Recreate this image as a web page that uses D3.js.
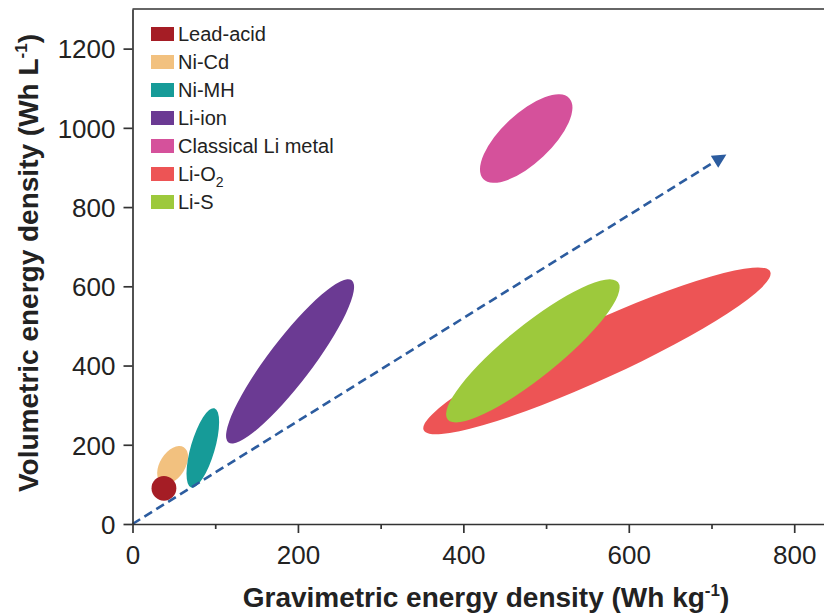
<!DOCTYPE html>
<html>
<head>
<meta charset="utf-8">
<script src="https://cdn.jsdelivr.net/npm/d3@7"></script>
<style>
  html, body { margin: 0; padding: 0; background: #fff; }
  svg { display: block; font-family: "Liberation Sans", Arial, Helvetica, sans-serif; }
</style>
</head>
<body>
<svg id="chart" width="824" height="614"></svg>
<script>
// ---- data (Wh/kg, Wh/L) ----
// each chemistry is an ellipse: long axis from (gravLow, volLow) to (gravHigh, volHigh),
// plus how thick it is relative to its length
const chemistries = ["Lead-acid", "Ni-Cd", "Ni-MH", "Li-ion", "Classical Li metal", "Li-O2", "Li-S"];
const gravLow  = [23, 35, 71, 116, 424, 352, 381];
const gravHigh = [53, 62, 99, 265, 528, 771, 587];
const volLow   = [90, 104, 92, 206, 871, 237, 264];
const volHigh  = [90, 194, 292, 615, 1075, 637, 610];
const thickness = [1, 0.6, 0.29, 0.214, 0.42, 0.15, 0.24];
const colors = ["#a51d25", "#f2c17f", "#169b98", "#6b3a93", "#d5519b", "#ed5455", "#9dc93c"];
const drawOrder = [1, 0, 2, 3, 4, 5, 6]; // Ni-Cd sits under the lead-acid dot, Li-S over Li-O2

const xTicks = [0, 200, 400, 600, 800];
const xMinorTicks = [100, 300, 500, 700];
const yTicks = [0, 200, 400, 600, 800, 1000, 1200];
const trendEnd = { grav: 718, vol: 933 }; // dashed arrow from the origin

// ---- layout ----
const svg = d3.select("#chart");
const W = 824, H = 614;
const m = { top: 9, right: 0, bottom: 90, left: 132.5 };
const x = d3.scaleLinear().domain([0, 836]).range([m.left, W - m.right]);
const y = d3.scaleLinear().domain([0, 1300]).range([H - m.bottom, m.top]);
const axisColor = "#333";

// ---- ellipses ----
const g = svg.append("g");
drawOrder.forEach(i => {
  const x1 = x(gravLow[i]), y1 = y(volLow[i]);
  const x2 = x(gravHigh[i]), y2 = y(volHigh[i]);
  const rx = Math.hypot(x2 - x1, y2 - y1) / 2;
  const ang = Math.atan2(y2 - y1, x2 - x1) * 180 / Math.PI;
  const cx = (x1 + x2) / 2, cy = (y1 + y2) / 2;
  g.append("ellipse")
    .attr("cx", cx).attr("cy", cy)
    .attr("rx", rx).attr("ry", rx * thickness[i])
    .attr("transform", `rotate(${ang},${cx},${cy})`)
    .attr("fill", colors[i]);
});

// ---- trend arrow ----
svg.append("defs").append("marker")
  .attr("id", "head").attr("viewBox", "0 0 10 10")
  .attr("refX", 10).attr("refY", 5)
  .attr("markerUnits", "userSpaceOnUse")
  .attr("markerWidth", 18).attr("markerHeight", 14)
  .attr("orient", "auto")
  .append("path").attr("d", "M0,0 L10,5 L0,10 Z").attr("fill", "#2c5c9f");

svg.append("line")
  .attr("x1", x(0)).attr("y1", y(0))
  .attr("x2", x(trendEnd.grav)).attr("y2", y(trendEnd.vol))
  .attr("stroke", "#2c5c9f").attr("stroke-width", 2.6)
  .attr("stroke-dasharray", "9,5")
  .attr("marker-end", "url(#head)");

// ---- axes ----
svg.append("g").attr("transform", `translate(0,${y(0)})`)
  .call(d3.axisBottom(x).tickValues(xTicks).tickFormat(d3.format("d"))
    .tickSize(9).tickSizeOuter(0).tickPadding(13));
svg.append("g").attr("transform", `translate(0,${y(0)})`)
  .call(d3.axisBottom(x).tickValues(xMinorTicks).tickSize(5).tickSizeOuter(0).tickFormat(""))
  .call(a => a.select(".domain").remove());
const yAxis = svg.append("g").attr("transform", `translate(${x(0)},0)`)
  .call(d3.axisLeft(y).tickValues(yTicks).tickFormat(d3.format("d"))
    .tickSize(9).tickSizeOuter(0).tickPadding(8));

svg.selectAll(".domain, .tick line").attr("stroke", axisColor).attr("stroke-width", 1.7);
svg.selectAll(".tick text").attr("fill", "#222").style("font-size", "26px");
yAxis.selectAll(".tick text").attr("dy", "0.36em");

// top frame line
svg.append("line")
  .attr("x1", x(0)).attr("x2", W).attr("y1", y(1300)).attr("y2", y(1300))
  .attr("stroke", axisColor).attr("stroke-width", 1.7);

// ---- axis titles ----
const xt = svg.append("text")
  .attr("x", 486).attr("y", 607)
  .attr("text-anchor", "middle").attr("fill", "#222")
  .style("font-size", "28px").style("font-weight", "bold");
xt.append("tspan").text("Gravimetric energy density (Wh kg");
xt.append("tspan").attr("dy", -11).style("font-size", "17px").text("-1");
xt.append("tspan").attr("dy", 11).text(")");

const yt = svg.append("text")
  .attr("transform", "translate(38,263) rotate(-90)")
  .attr("text-anchor", "middle").attr("fill", "#222")
  .style("font-size", "28px").style("font-weight", "bold");
yt.append("tspan").text("Volumetric energy density (Wh L");
yt.append("tspan").attr("dy", -11).style("font-size", "17px").text("-1");
yt.append("tspan").attr("dy", 11).text(")");

// ---- legend ----
const legend = svg.append("g").attr("transform", "translate(151,34)");
chemistries.forEach((name, i) => {
  const row = legend.append("g").attr("transform", `translate(0,${i * 28})`);
  row.append("rect").attr("x", 0).attr("y", -7).attr("width", 23).attr("height", 14)
    .attr("fill", colors[i]);
  const t = row.append("text").attr("x", 27).attr("y", 7)
    .attr("fill", "#222").style("font-size", "20px");
  if (name === "Li-O2") {
    t.append("tspan").text("Li-O");
    t.append("tspan").attr("dy", 6).style("font-size", "14px").text("2");
  } else {
    t.text(name);
  }
});
</script>
</body>
</html>
